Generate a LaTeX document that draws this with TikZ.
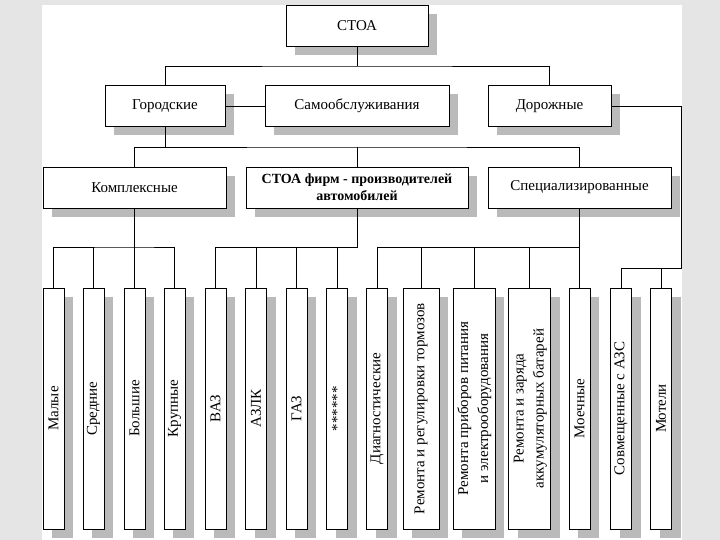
\documentclass[tikz,border=0pt]{standalone}
\usepackage{fontspec}
\usepackage{graphicx}
\setmainfont{Liberation Serif}
\usetikzlibrary{shadows}

\begin{document}
\begin{tikzpicture}[x=1pt, y=-1pt,
    box/.style={draw, rectangle, fill=white, line width=0.9pt, inner sep=1pt,
        minimum height=41pt, font=\fontsize{15}{17}\selectfont,
        general shadow={fill=black!27, shadow xshift=9pt, shadow yshift=-9pt}},
    vbox/.style={box, minimum width=21pt, minimum height=241pt,
        font=\fontsize{15}{20}\selectfont},
    link/.style={line width=0.8pt}]
    \useasboundingbox (0,0) rectangle (720,540);
    % page background
    \fill[black!10] (0,0) rectangle (720,540);
    \fill[white] (42,5) rectangle (682,540);

    % upper levels
    \node[box, minimum width=142pt] (stoa) at (357,25.5) {СТОА};

    \node[box, minimum width=120pt] (gorod) at (165,106) {Городские};
    \node[box, minimum width=184pt] (samo) at (357,106) {Самообслуживания};
    \node[box, minimum width=123pt] (dorog) at (549.5,106) {Дорожные};

    \node[box, minimum width=183pt] (kompl) at (134.5,187.5) {Комплексные};
    \node[box, minimum width=222pt, align=center, font=\fontsize{14}{17}\selectfont\bfseries]
        (firm) at (357,187.5) {СТОА фирм - производителей\\автомобилей};
    \node[box, minimum width=183pt] (spec) at (579.5,187.5) {Специализированные};

    % lower level
    \node[vbox] (malye) at (53.5,408.5) {\rotatebox{90}{Малые}};
    \node[vbox] (sredn) at (93.5,408.5) {\rotatebox{90}{Средние}};
    \node[vbox] (bolsh) at (134.5,408.5) {\rotatebox{90}{Большие}};
    \node[vbox] (krupn) at (174.5,408.5) {\rotatebox{90}{Крупные}};
    \node[vbox] (vaz) at (215.5,408.5) {\rotatebox{90}{ВАЗ}};
    \node[vbox] (azlk) at (256,408.5) {\rotatebox{90}{АЗЛК}};
    \node[vbox] (gaz) at (296.5,408.5) {\rotatebox{90}{ГАЗ}};
    \node[vbox] (other) at (337,408.5) {\rotatebox{90}{******}};
    \node[vbox] (diagn) at (377,408.5) {\rotatebox{90}{Диагностические}};
    \node[vbox, minimum width=36pt] (tormoz) at (421,408.5)
        {\rotatebox{90}{Ремонта и регулировки тормозов}};
    \node[vbox, minimum width=42pt] (pitan) at (474,408.5)
        {\rotatebox{90}{\begin{tabular}{@{}c@{}}Ремонта приборов питания\\и электрооборудования\end{tabular}}};
    \node[vbox, minimum width=41pt] (akkum) at (529.5,408.5)
        {\rotatebox{90}{\begin{tabular}{@{}c@{}}Ремонта и заряда\\аккумуляторных батарей\end{tabular}}};
    \node[vbox] (moech) at (579.5,408.5) {\rotatebox{90}{Моечные}};
    \node[vbox] (azs) at (621,408.5) {\rotatebox{90}{Совмещенные с АЗС}};
    \node[vbox] (motel) at (661,408.5) {\rotatebox{90}{Мотели}};

    % bus points
    \coordinate (busTop) at (357,66);
    \coordinate (busMid) at (357,147);
    \coordinate (busKompl) at (134.5,247);
    \coordinate (busFirm) at (357,247);
    \coordinate (busSpec) at (579.5,247);
    \coordinate (busRoad) at (681,268);

    % connectors
    \draw[link] (stoa) -- (busTop);
    \draw[link] (gorod.north) |- (busTop) -| (dorog.north);
    \draw[link] (gorod.east) -- (samo.west);

    \draw[link] (gorod.south) -- (gorod.south |- busMid);
    \draw[link] (kompl.north) |- (busMid) -| (spec.north);
    \draw[link] (firm.north) -- (busMid);

    \draw[link] (kompl.south) -- (bolsh.north);
    \draw[link] (malye.north) |- (busKompl) -| (krupn.north);
    \draw[link] (sredn.north) -- (sredn.north |- busKompl);

    \draw[link] (firm.south) -- (busFirm) -| (vaz.north);
    \draw[link] (azlk.north) -- (azlk.north |- busFirm);
    \draw[link] (gaz.north) -- (gaz.north |- busFirm);
    \draw[link] (other.north) -- (other.north |- busFirm);

    \draw[link] (spec.south) -- (moech.north);
    \draw[link] (diagn.north) |- (busSpec);
    \draw[link] (tormoz.north) -- (tormoz.north |- busSpec);
    \draw[link] (pitan.north) -- (pitan.north |- busSpec);
    \draw[link] (akkum.north) -- (akkum.north |- busSpec);

    \draw[link] (dorog.east) -| (busRoad) -| (azs.north);
    \draw[link] (motel.north) -- (motel.north |- busRoad);
\end{tikzpicture}
\end{document}
